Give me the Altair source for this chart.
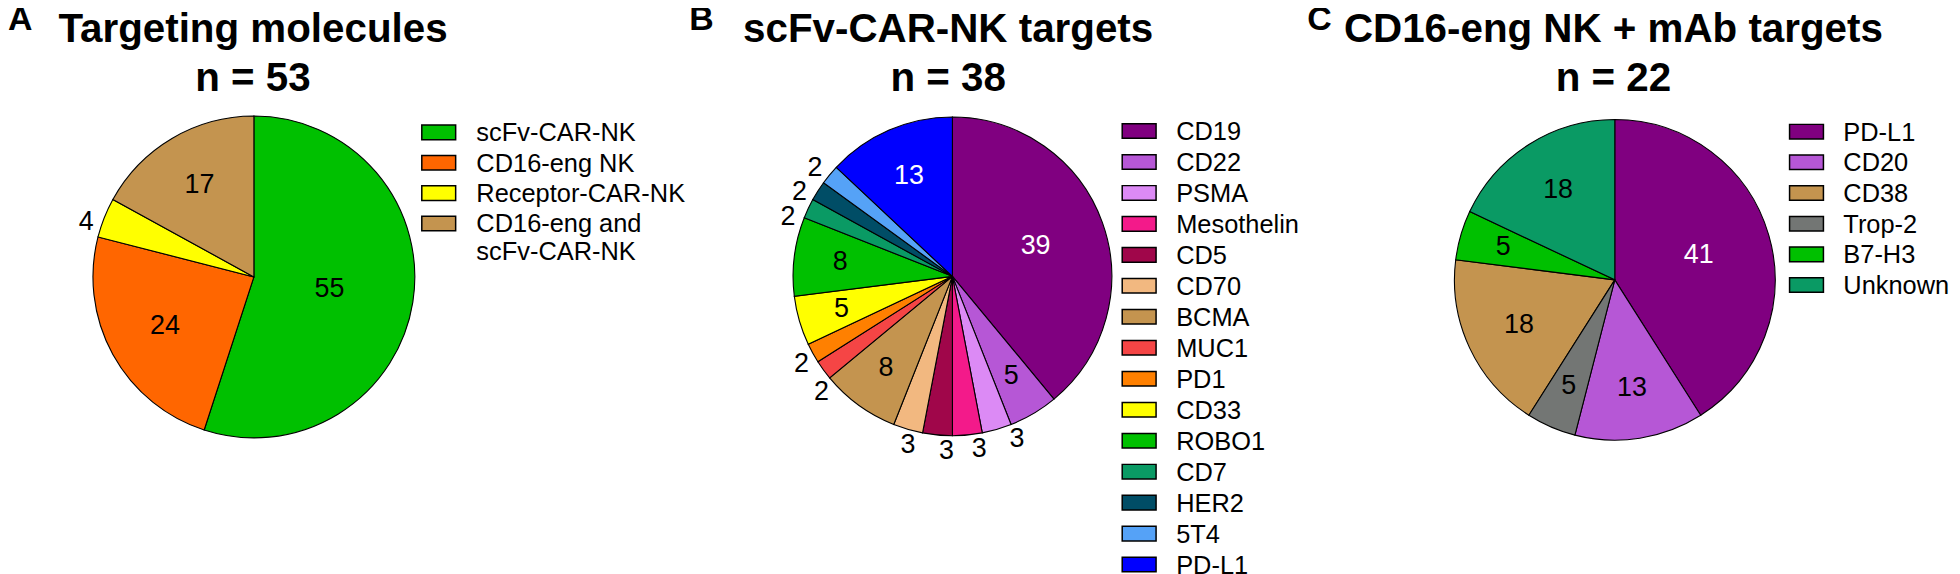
import altair as alt
import pandas as pd

FONT = "Liberation Sans"

# ---------------- data ----------------
a_letter = "A"
a_title = "Targeting molecules"
a_n = "n = 53"
a_cats = ["scFv-CAR-NK", "CD16-eng NK", "Receptor-CAR-NK", "CD16-eng and\nscFv-CAR-NK"]
a_vals = [55, 24, 4, 17]
a_colors = ["#00C000", "#FF6600", "#FFFF00", "#C4944F"]
a_pie_order = [0, 1, 2, 3]

b_letter = "B"
b_title = "scFv-CAR-NK targets"
b_n = "n = 38"
b_cats = ["CD19", "CD22", "PSMA", "Mesothelin", "CD5", "CD70", "BCMA", "MUC1",
          "PD1", "CD33", "ROBO1", "CD7", "HER2", "5T4", "PD-L1"]
b_vals = [39, 5, 3, 3, 3, 3, 8, 2, 2, 5, 8, 2, 2, 2, 13]
b_colors = ["#800080", "#B657D6", "#DC8AF5", "#F31A8A", "#A0064A", "#F2B880", "#C4944F",
            "#F54545", "#FF8000", "#FFFF00", "#00C000", "#0A9A64", "#004D66", "#55A2F7", "#0000FF"]
b_pie_order = list(range(15))

c_letter = "C"
c_title = "CD16-eng NK + mAb targets"
c_n = "n = 22"
c_cats = ["PD-L1", "CD20", "CD38", "Trop-2", "B7-H3", "Unknown"]
c_vals = [41, 13, 18, 5, 5, 18]
c_colors = ["#800080", "#B657D6", "#C4944F", "#737674", "#00C000", "#0A9A64"]
c_pie_order = [0, 1, 3, 2, 4, 5]


def text_layer(s, x, y, size, bold=True, align="center"):
    return alt.Chart(pd.DataFrame({"t": [s]})).mark_text(
        font=FONT, fontSize=size, fontWeight="bold" if bold else "normal",
        align=align, baseline="alphabetic", color="black"
    ).encode(text="t:N", x=alt.value(x), y=alt.value(y))


def panel(letter, title, n, cats, vals, colors, order,
          cx, cy, R, letter_x, title_x, sw_x, lab_x, row0, step):
    df = pd.DataFrame({"cat": cats, "value": vals, "col": colors, "ord": order})
    base = alt.Chart(df)
    pie = base.mark_arc(radius=R, stroke="black", strokeWidth=1.1).encode(
        theta=alt.Theta("value:Q", stack=True), order=alt.Order("ord:Q"),
        fill=alt.Fill("col:N", scale=None), detail="cat:N",
        x=alt.value(cx), y=alt.value(cy))
    labels = base.transform_window(
        cum="sum(value)", sort=[alt.SortField("ord")], frame=[None, 0]
    ).transform_window(
        prev="lag(value)", nxt="lead(value)", sort=[alt.SortField("ord")]
    ).transform_joinaggregate(
        total="sum(value)"
    ).transform_calculate(
        spread="(datum.prev != null && datum.prev < 5 ? 0.035 : 0)"
               " - (datum.nxt != null && datum.nxt < 5 ? 0.035 : 0)",
    ).transform_calculate(
        mid="(datum.cum - datum.value / 2) / datum.total * 2 * PI"
            " + (datum.value < 5 ? datum.spread - 0.06 : 0)",
        r=f"datum.value < 5 ? {R + 15.5} : {R} * (0.75 - 0.005 * datum.value)",
        tc="datum.value >= 5 && luminance(datum.col) < 0.1 ? 'white' : 'black'"
    ).mark_text(font=FONT, fontSize=27, baseline="middle", align="center").encode(
        theta=alt.Theta("mid:Q", scale=None),
        radius=alt.Radius("r:Q", scale=None),
        text="value:Q", fill=alt.Fill("tc:N", scale=None),
        x=alt.value(cx), y=alt.value(cy))
    ysc = alt.Scale(domain=cats, range=[row0, row0 + step * (len(cats) - 1)], padding=0)
    swatch = base.mark_point(shape="M-1,-0.43H1V0.43H-1Z", filled=True, size=34 ** 2,
                             stroke="black", strokeWidth=1.5, opacity=1).encode(
        x=alt.value(sw_x), y=alt.Y("cat:N", scale=ysc, axis=None),
        fill=alt.Fill("col:N", scale=None))
    legtext = base.mark_text(font=FONT, fontSize=25.5, align="left", baseline="alphabetic",
                             dy=9, lineBreak="\n", lineHeight=27.5, color="black").encode(
        x=alt.value(lab_x), y=alt.Y("cat:N", scale=ysc, axis=None), text="cat:N")
    return [pie, labels, swatch, legtext,
            text_layer(letter, letter_x, 21, 34, align="left"),
            text_layer(title, title_x, 33, 40.5),
            text_layer(n, title_x, 82, 40.5)]


layers = []
layers += panel(a_letter, a_title, a_n, a_cats, a_vals, a_colors, a_pie_order,
                246.9, 268.9, 161.6, 0, 246, 432.5, 470.3, 123.7, 30.5)
layers += panel(b_letter, b_title, b_n, b_cats, b_vals, b_colors, b_pie_order,
                948.3, 268.3, 160, 684, 944, 1135.8, 1173, 122.3, 31.1)
layers += panel(c_letter, c_title, c_n, c_cats, c_vals, c_colors, c_pie_order,
                1613.4, 271.8, 161, 1304.6, 1612, 1805.9, 1842.9, 123, 30.8)

chart = alt.layer(*layers).resolve_scale(y="independent").properties(
    width=1952, height=566,
    autosize=alt.AutoSizeParams(type="none"), padding=0,
    background="white"
).configure_view(stroke=None)

chart.save("out.html", embed_options={"renderer": "svg", "actions": False})
